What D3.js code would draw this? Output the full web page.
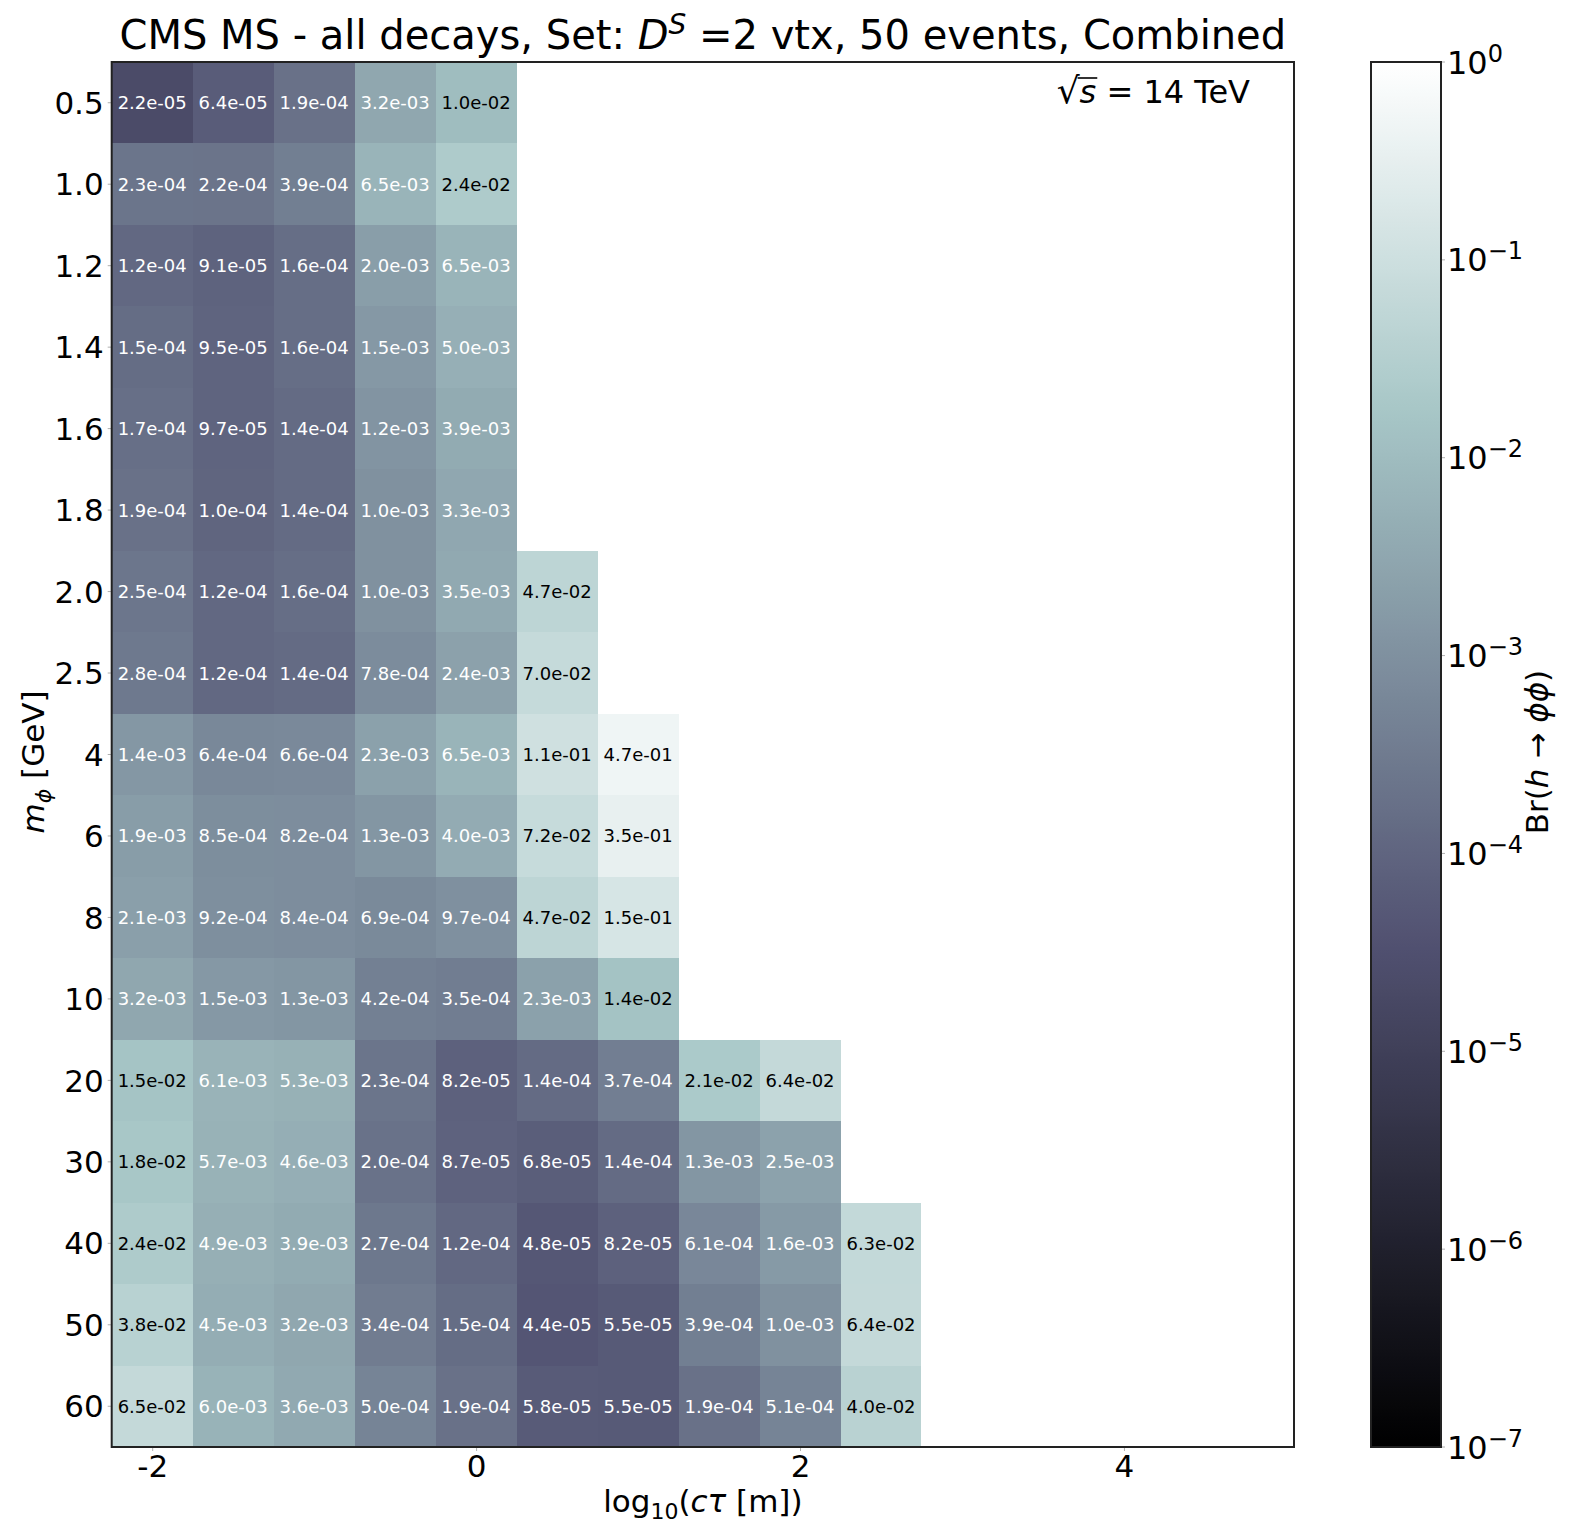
<!DOCTYPE html>
<html><head><meta charset="utf-8">
<script src="https://cdn.jsdelivr.net/npm/d3@7"></script>
<style>
body{margin:0;background:#fff}
text{font-family:"DejaVu Sans",sans-serif;fill:#000}
</style>
</head><body>
<svg id="chart" width="1574" height="1536"></svg>
<script>
// ---- data ----
const masses = ["0.5","1.0","1.2","1.4","1.6","1.8","2.0","2.5","4","6","8","10","20","30","40","50","60"];
const log10CTau = [-2, -1.5, -1, -0.5, 0, 0.5, 1, 1.5, 2, 2.5];
const brValues = [
  [2.2e-05, 6.4e-05, 1.9e-04, 3.2e-03, 1.0e-02],
  [2.3e-04, 2.2e-04, 3.9e-04, 6.5e-03, 2.4e-02],
  [1.2e-04, 9.1e-05, 1.6e-04, 2.0e-03, 6.5e-03],
  [1.5e-04, 9.5e-05, 1.6e-04, 1.5e-03, 5.0e-03],
  [1.7e-04, 9.7e-05, 1.4e-04, 1.2e-03, 3.9e-03],
  [1.9e-04, 1.0e-04, 1.4e-04, 1.0e-03, 3.3e-03],
  [2.5e-04, 1.2e-04, 1.6e-04, 1.0e-03, 3.5e-03, 4.7e-02],
  [2.8e-04, 1.2e-04, 1.4e-04, 7.8e-04, 2.4e-03, 7.0e-02],
  [1.4e-03, 6.4e-04, 6.6e-04, 2.3e-03, 6.5e-03, 1.1e-01, 4.7e-01],
  [1.9e-03, 8.5e-04, 8.2e-04, 1.3e-03, 4.0e-03, 7.2e-02, 3.5e-01],
  [2.1e-03, 9.2e-04, 8.4e-04, 6.9e-04, 9.7e-04, 4.7e-02, 1.5e-01],
  [3.2e-03, 1.5e-03, 1.3e-03, 4.2e-04, 3.5e-04, 2.3e-03, 1.4e-02],
  [1.5e-02, 6.1e-03, 5.3e-03, 2.3e-04, 8.2e-05, 1.4e-04, 3.7e-04, 2.1e-02, 6.4e-02],
  [1.8e-02, 5.7e-03, 4.6e-03, 2.0e-04, 8.7e-05, 6.8e-05, 1.4e-04, 1.3e-03, 2.5e-03],
  [2.4e-02, 4.9e-03, 3.9e-03, 2.7e-04, 1.2e-04, 4.8e-05, 8.2e-05, 6.1e-04, 1.6e-03, 6.3e-02],
  [3.8e-02, 4.5e-03, 3.2e-03, 3.4e-04, 1.5e-04, 4.4e-05, 5.5e-05, 3.9e-04, 1.0e-03, 6.4e-02],
  [6.5e-02, 6.0e-03, 3.6e-03, 5.0e-04, 1.9e-04, 5.8e-05, 5.5e-05, 1.9e-04, 5.1e-04, 4.0e-02]
];
const xTickValues = [-2, 0, 2, 4];
const cbarExponents = [0, -1, -2, -3, -4, -5, -6, -7];

// ---- bone colormap (matplotlib segment data) ----
const boneR = [[0,0],[0.746032,0.652778],[1,1]];
const boneG = [[0,0],[0.365079,0.319444],[0.746032,0.777778],[1,1]];
const boneB = [[0,0],[0.365079,0.444444],[1,1]];
function seg(p, t){
  for (let i=1;i<p.length;i++){
    if (t <= p[i][0]) { const a=p[i-1], b=p[i]; return a[1] + (t-a[0])/(b[0]-a[0])*(b[1]-a[1]); }
  }
  return p[p.length-1][1];
}
function bone(t){
  t = Math.max(0, Math.min(1, t));
  return d3.rgb(Math.round(seg(boneR,t)*255), Math.round(seg(boneG,t)*255), Math.round(seg(boneB,t)*255)).toString();
}

// ---- layout ----
const L = 111.7, R = 1294, T = 62, B = 1447;
const svg = d3.select("#chart");
const x = d3.scaleLinear().domain([-2.25, 5.05]).range([L, R]);
const y = d3.scaleBand().domain(masses).range([T, B]);
const norm = d3.scaleLog().domain([1e-7, 1]).range([0, 1]).clamp(true);
const halfW = 0.25;

// ---- cells ----
const cells = [];
brValues.forEach((row, i) => row.forEach((v, j) => {
  if (v != null) cells.push({m: masses[i], c: log10CTau[j], v});
}));
const g = svg.append("g");
g.selectAll("rect").data(cells).join("rect")
  .attr("x", d => x(d.c - halfW))
  .attr("width", d => x(d.c + halfW) - x(d.c - halfW))
  .attr("y", d => y(d.m))
  .attr("height", y.bandwidth())
  .attr("fill", d => bone(norm(d.v)))
  .attr("shape-rendering", "crispEdges");
g.selectAll("text").data(cells).join("text")
  .attr("x", d => x(d.c))
  .attr("y", d => y(d.m) + y.bandwidth()/2)
  .attr("dy", "0.36em")
  .attr("text-anchor", "middle")
  .style("font-size", "18px")
  .style("fill", d => d.v >= 1e-2 ? "#000" : "#fff")
  .text(d => d.v.toExponential(1).replace(/e([+-])(\d)$/, "e$10$2"));

// ---- axes ----
const xAxis = svg.append("g").attr("transform", `translate(0,${B})`)
  .call(d3.axisBottom(x).tickValues(xTickValues).tickSize(4).tickPadding(4).tickFormat(d => String(d)));
const yAxis = svg.append("g").attr("transform", `translate(${L},0)`)
  .call(d3.axisLeft(y).tickSize(4).tickPadding(4));
[xAxis, yAxis].forEach(a => {
  a.select(".domain").remove();
  a.selectAll(".tick line").attr("stroke", "#b0b0b0");
  a.selectAll(".tick text").style("font-size", "31px").style("font-family", "DejaVu Sans");
});
yAxis.selectAll(".tick text").attr("dy", "0.36em");

// frame
svg.append("rect").attr("x", L).attr("y", T).attr("width", R-L).attr("height", B-T)
  .attr("fill", "none").attr("stroke", "#222").attr("stroke-width", 2);

// ---- colorbar ----
const CL = 1371, CW = 70;
const cy = d3.scaleLog().domain([1e-7, 1]).range([B, T]);
const defs = svg.append("defs");
const grad = defs.append("linearGradient").attr("id", "cbg")
  .attr("x1", 0).attr("y1", 1).attr("x2", 0).attr("y2", 0);
grad.selectAll("stop").data(d3.range(0, 1.0001, 0.01)).join("stop")
  .attr("offset", d => d).attr("stop-color", d => bone(d));
svg.append("rect").attr("x", CL).attr("y", T).attr("width", CW).attr("height", B-T)
  .attr("fill", "url(#cbg)").attr("stroke", "#222").attr("stroke-width", 2);
const cb = svg.append("g");
const cbt = cb.selectAll("g").data(cbarExponents).join("g")
  .attr("transform", d => `translate(${CL+CW},${cy(Math.pow(10, d))})`);
cbt.append("line").attr("x1", 1).attr("x2", 4).attr("stroke", "#b0b0b0");
const cbtext = cbt.append("text").attr("x", 6).attr("dy", "0.36em").style("font-size", "32px");
cbtext.append("tspan").text("10");
cbtext.append("tspan").attr("dy", "-0.5em").style("font-size", "24px")
  .text(d => d === 0 ? "0" : "\u2212" + Math.abs(d));

// colorbar label
const cbl = svg.append("text").attr("transform", "translate(1548,752) rotate(-90)")
  .attr("text-anchor", "middle").style("font-size", "31px");
cbl.append("tspan").text("Br(");
cbl.append("tspan").style("font-style", "italic").text("h");
cbl.append("tspan").text(" \u2192 ");
cbl.append("tspan").style("font-style", "italic").text("\u03D5\u03D5");
cbl.append("tspan").text(")");

// ---- labels ----
const title = svg.append("text").attr("x", (L+R)/2).attr("y", 49)
  .attr("text-anchor", "middle").style("font-size", "40px");
title.append("tspan").text("CMS MS - all decays, Set: ");
title.append("tspan").style("font-style", "italic").text("D");
title.append("tspan").style("font-style", "italic").style("font-size", "28px").attr("dy", "-15").text("S");
title.append("tspan").attr("dy", "15").text(" =2 vtx, 50 events, Combined");

const xl = svg.append("text").attr("x", (L+R)/2).attr("y", 1512)
  .attr("text-anchor", "middle").style("font-size", "31px");
xl.append("tspan").text("log");
xl.append("tspan").style("font-size", "22px").attr("dy", "7").text("10");
xl.append("tspan").attr("dy", "-7").text("(");
xl.append("tspan").style("font-style", "italic").text("c\u03C4");
xl.append("tspan").text(" [m])");

const yl = svg.append("text").attr("transform", "translate(44,762) rotate(-90)")
  .attr("text-anchor", "middle").style("font-size", "31px");
yl.append("tspan").style("font-style", "italic").text("m");
yl.append("tspan").style("font-style", "italic").style("font-size", "22px").attr("dy", "7").text("\u03D5");
yl.append("tspan").attr("dy", "-7").text(" [GeV]");

// sqrt(s) annotation
const ann = svg.append("text").attr("x", 1250).attr("y", 103)
  .attr("text-anchor", "end").style("font-size", "32px");
ann.append("tspan").style("font-size", "36px").text("\u221A");
const sSpan = ann.append("tspan").style("font-style", "italic").text("s");
ann.append("tspan").text(" = 14 TeV");
const bb = sSpan.node().getBBox();
svg.append("line").attr("x1", bb.x - 2).attr("x2", bb.x + bb.width + 1)
  .attr("y1", bb.y + 5).attr("y2", bb.y + 5).attr("stroke", "#000").attr("stroke-width", 1.6);
</script>
</body></html>
